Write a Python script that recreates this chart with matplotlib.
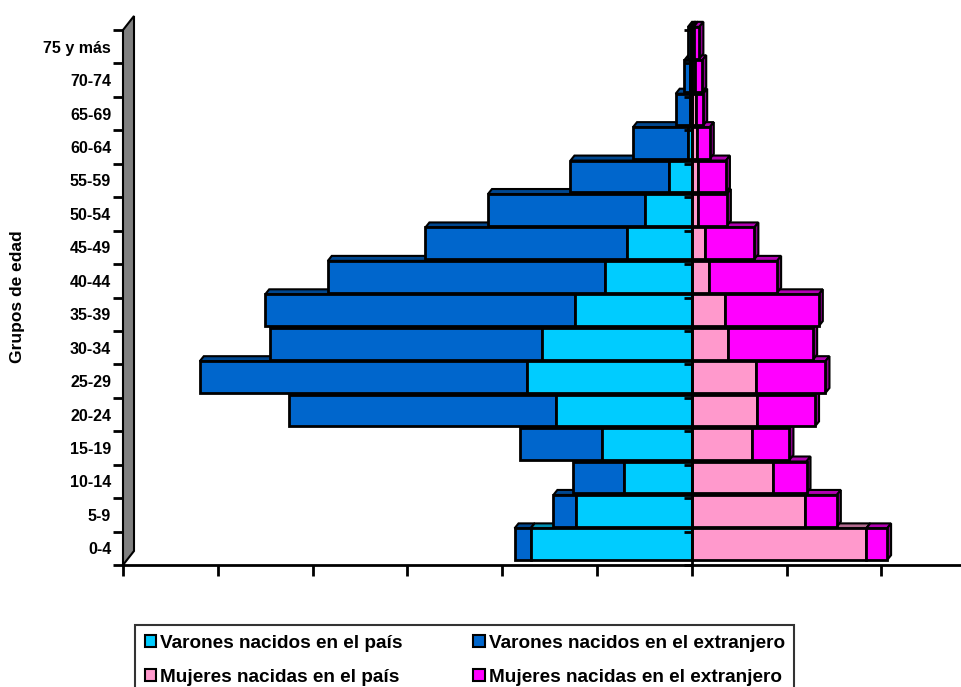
import numpy as np
import matplotlib.pyplot as plt
from matplotlib.patches import Polygon, Patch
from matplotlib.colors import to_rgb

plt.rcParams['font.family'] = ['Liberation Sans', 'DejaVu Sans']
plt.rcParams['font.weight'] = 'bold'

# data (one tick on the x axis = 1 unit), bottom row first
grupos = ['0-4', '5-9', '10-14', '15-19', '20-24', '25-29', '30-34', '35-39',
          '40-44', '45-49', '50-54', '55-59', '60-64', '65-69', '70-74', '75 y más']
var_pais = [1.70, 1.22, 0.71, 0.95, 1.43, 1.74, 1.58, 1.23, 0.92, 0.68, 0.49, 0.24, 0.04, 0.02, 0.02, 0.01]
var_ext = [0.17, 0.24, 0.54, 0.86, 2.82, 3.45, 2.87, 3.27, 2.92, 2.13, 1.66, 1.04, 0.58, 0.15, 0.06, 0.03]
muj_pais = [1.84, 1.19, 0.86, 0.63, 0.69, 0.68, 0.38, 0.35, 0.18, 0.14, 0.07, 0.07, 0.06, 0.04, 0.03, 0.02]
muj_ext = [0.22, 0.34, 0.35, 0.40, 0.61, 0.73, 0.90, 0.99, 0.72, 0.52, 0.30, 0.29, 0.13, 0.08, 0.08, 0.06]

series = [
    ('Varones nacidos en el extranjero', '#0066CC'),
    ('Varones nacidos en el país', '#00CCFF'),
    ('Mujeres nacidas en el país', '#FF99CC'),
    ('Mujeres nacidas en el extranjero', '#FF00FF'),
]

fig = plt.figure(figsize=(9.61, 6.87), dpi=100)
ax = fig.add_axes([123 / 961, 122 / 687, 838 / 961, 535 / 687])
xmin, xmax = -6, -6 + 838 / 94.8
ax.set_xlim(xmin, xmax)
ax.set_ylim(-0.5, 15.5)

# 3d look
dx, dy = 4 / 94.8, 5 / 33.44
h, off = 0.95, 0.12


def shade(c, f):
    r, g, b = to_rgb(c)
    return (r * f, g * f, b * f)


def bar3d(left, width, y, color):
    if width <= 0:
        return
    right = left + width
    top = y + h / 2
    ax.add_patch(Polygon([(left, top), (left + dx, top + dy), (right + dx, top + dy), (right, top)],
                         closed=True, fc=shade(color, 0.7), ec='black', lw=1.5, clip_on=False))
    ax.add_patch(Polygon([(right, top), (right + dx, top + dy), (right + dx, top + dy - h), (right, top - h)],
                         closed=True, fc=shade(color, 0.55), ec='black', lw=1.5, clip_on=False))
    ax.barh(y, width, left=left, height=h, color=color, edgecolor='black', linewidth=2, clip_on=False)


for i in range(len(grupos)):
    y = i + off
    vp, ve, mp, me = var_pais[i], var_ext[i], muj_pais[i], muj_ext[i]
    bar3d(-(vp + ve), ve, y, series[0][1])
    bar3d(-vp, vp, y, series[1][1])
    bar3d(0, mp, y, series[2][1])
    bar3d(mp, me, y, series[3][1])

# axes styling
for s in ['top', 'right']:
    ax.spines[s].set_visible(False)
ax.spines['bottom'].set_linewidth(2)
ax.spines['left'].set_linewidth(2)
ax.set_xticks(np.arange(-6, 3))
ax.set_xticklabels([])
ax.tick_params(axis='x', length=8, width=2, direction='out')
ax.set_yticks(np.arange(-0.5, 16, 1))
ax.set_yticklabels([])
ax.set_yticks(np.arange(len(grupos)), minor=True)
ax.set_yticklabels(grupos, minor=True, fontsize=11.5, fontweight='bold')
ax.tick_params(axis='y', which='major', length=7, width=2, direction='out')
ax.tick_params(axis='y', which='minor', length=0, pad=8.5)

# grey wall
wx, wy = 11 / 94.8, 14 / 33.44
ax.add_patch(Polygon([(xmin, -0.5), (xmin, 15.5), (xmin + wx, 15.5 + wy), (xmin + wx, -0.5 + wy)],
                     closed=True, fc='#808080', ec='black', lw=1.5, clip_on=False, zorder=3))

# centre axis
axc = fig.add_axes(ax.get_position(), sharex=ax, sharey=ax)
axc.patch.set_visible(False)
for s in ['top', 'right', 'bottom']:
    axc.spines[s].set_visible(False)
axc.spines['left'].set_position(('data', 0))
axc.spines['left'].set_linewidth(2)
axc.tick_params(axis='x', length=0, labelbottom=False)
axc.tick_params(axis='y', which='major', length=6, width=2, direction='out', labelleft=False)
axc.tick_params(axis='y', which='minor', length=0, labelleft=False)

fig.text(18 / 961, 1 - 297 / 687, 'Grupos de edad', rotation=90, ha='center', va='center',
         fontsize=12.5, fontweight='bold')

handles = [Patch(fc=series[1][1], ec='black', lw=1.5), Patch(fc=series[2][1], ec='black', lw=1.5),
           Patch(fc=series[0][1], ec='black', lw=1.5), Patch(fc=series[3][1], ec='black', lw=1.5)]
labels = [series[1][0], series[2][0], series[0][0], series[3][0]]
leg = fig.legend(handles, labels, loc='upper left', bbox_to_anchor=(135 / 961, 1 - 625 / 687),
                 ncol=2, frameon=True, fancybox=False, edgecolor='black',
                 prop={'size': 13.7, 'weight': 'bold'}, handlelength=0.62, handleheight=0.62,
                 handletextpad=0.2, columnspacing=3.7, borderpad=0.5, labelspacing=0.9,
                 borderaxespad=0)
leg.get_frame().set_linewidth(1.5)

fig.savefig('out.png', dpi=100)
